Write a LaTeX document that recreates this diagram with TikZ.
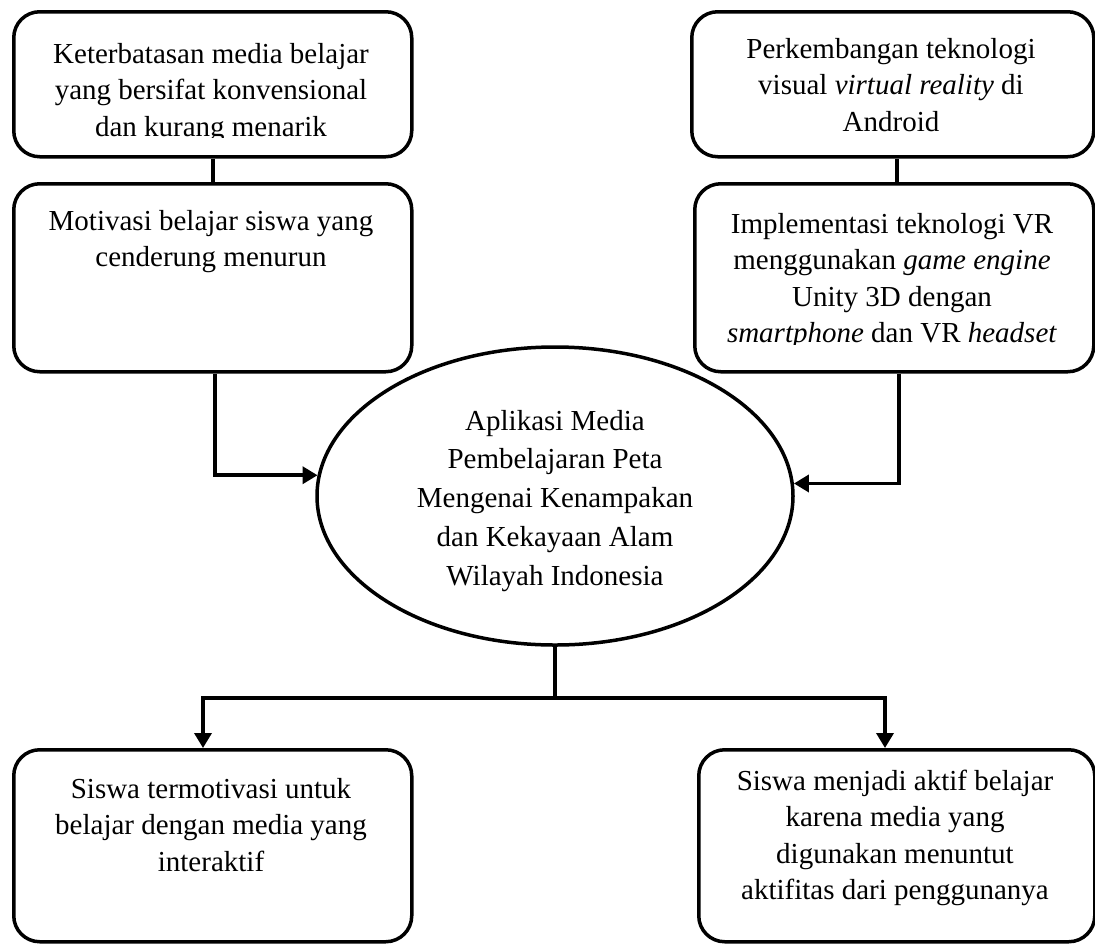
\documentclass[tikz,border=0pt]{standalone}
\usepackage{fontspec}
\setmainfont{Liberation Serif}
\usetikzlibrary{arrows.meta,shapes.geometric}
\begin{document}
\begin{tikzpicture}[x=1pt,y=-1pt,
  box/.style={draw=black, line width=3.5pt, rounded corners=26pt, rectangle, anchor=north west, inner sep=0pt},
  oval/.style={draw=black, line width=3.5pt, ellipse, inner sep=0pt},
  txt/.style={anchor=north, inner sep=0pt, align=center, font=\fontsize{29}{36.5}\selectfont},
  etxt/.style={anchor=north, inner sep=0pt, align=center, font=\fontsize{29}{38.75}\selectfont},
  conn/.style={line width=3.5pt},
  arr/.style={conn, -{Triangle[length=15pt,width=17pt]}}]
\useasboundingbox (0,0) rectangle (1095,943);

% boxes
\node[box, minimum width=398pt, minimum height=145pt] (b1) at (12,10) {};
\node[box, minimum width=402pt, minimum height=145pt] (b2) at (690,10) {};
\node[box, minimum width=398pt, minimum height=188pt] (b3) at (12,182) {};
\node[box, minimum width=399pt, minimum height=188pt] (b4) at (693,182) {};
\node[oval, minimum width=476pt, minimum height=298pt] (ell) at (555,496) {};
\node[box, minimum width=398pt, minimum height=192pt] (b5) at (12,748) {};
\node[box, minimum width=396pt, minimum height=192pt] (b6) at (697,748) {};

% texts
\begin{scope}
\clip (12,10) rectangle (410,137.5);
\node[txt] (t1) at (211,37.5) {\strut Keterbatasan media belajar\\ yang bersifat konvensional\\ dan kurang menarik};
\end{scope}
\node[txt] (t2) at (891,32.5) {\strut Perkembangan teknologi\\ visual \textit{virtual reality} di\\ Android};
\node[txt] (t3) at (211,204.5) {\strut Motivasi belajar siswa yang\\ cenderung menurun};
\begin{scope}
\clip (693,182) rectangle (1092,344);
\node[txt] (t4) at (892,207.5) {\strut Implementasi teknologi VR\\ menggunakan \textit{game engine}\\ Unity 3D dengan\\ \textit{smartphone} dan VR \textit{headset}};
\end{scope}
\node[etxt] (te) at (555,402.9) {\strut Aplikasi Media\\ Pembelajaran Peta\\ Mengenai Kenampakan\\ dan Kekayaan Alam\\ Wilayah Indonesia};
\node[txt] (t5) at (211,772.5) {\strut Siswa termotivasi untuk\\ belajar dengan media yang\\ interaktif};
\node[txt] (t6) at (895,764.5) {\strut Siswa menjadi aktif belajar\\ karena media yang\\ digunakan menuntut\\ aktifitas dari penggunanya};

% connectors
\coordinate (c1) at (213,0);
\coordinate (c2) at (897,0);
\coordinate (c3) at (215,0);
\coordinate (c4) at (899,0);
\coordinate (j) at (555,698);
\coordinate (jl) at (203,698);
\coordinate (jr) at (885,698);

\draw[conn] (c1 |- b1.south) -- (c1 |- b3.north);
\draw[conn] (c2 |- b2.south) -- (c2 |- b4.north);
\draw[arr] (c3 |- b3.south) |- (ell.175.4);
\draw[arr] (c4 |- b4.south) |- (ell.3.4);
\draw[conn] (ell.south) -- (j);
\draw[arr] (j) -- (jl) -- (jl |- b5.north);
\draw[arr] (j) -- (jr) -- (jr |- b6.north);
\end{tikzpicture}
\end{document}
